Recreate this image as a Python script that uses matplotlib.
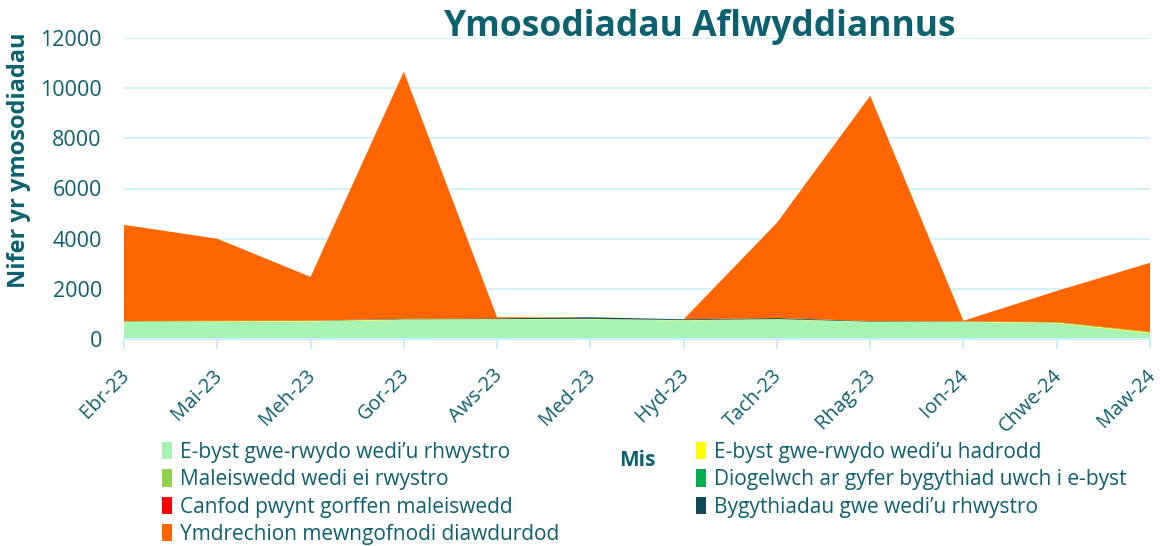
import numpy as np
import matplotlib.pyplot as plt
import matplotlib.transforms as mtransforms
from matplotlib.patches import Patch

plt.rcParams["font.family"] = ["Open Sans", "DejaVu Sans"]

TEAL = "#0B6170"
GRID = "#C8F1F8"

months = ["Ebr-23", "Mai-23", "Meh-23", "Gor-23", "Aws-23", "Med-23",
          "Hyd-23", "Tach-23", "Rhag-23", "Ion-24", "Chwe-24", "Maw-24"]

phish_blocked = [680, 690, 700, 760, 780, 790, 740, 780, 680, 680, 630, 230]
phish_reported = [20, 20, 20, 20, 10, 10, 10, 10, 10, 10, 30, 40]
malware_blocked = [3, 3, 3, 3, 3, 3, 3, 3, 3, 3, 3, 3]
adv_threat = [2, 2, 2, 2, 2, 2, 2, 2, 2, 2, 2, 2]
endpoint_malware = [1, 1, 1, 1, 1, 1, 1, 1, 1, 1, 1, 1]
web_threats = [10, 10, 10, 20, 30, 60, 30, 40, 20, 10, 10, 10]
login_attempts = [3835, 3270, 1740, 9850, 40, 0, 0, 3795, 8980, 20, 1240, 2750]

labels = ["E-byst gwe-rwydo wedi\u2019u rhwystro",
          "E-byst gwe-rwydo wedi\u2019u hadrodd",
          "Maleiswedd wedi ei rwystro",
          "Diogelwch ar gyfer bygythiad uwch i e-byst",
          "Canfod pwynt gorffen maleiswedd",
          "Bygythiadau gwe wedi\u2019u rhwystro",
          "Ymdrechion mewngofnodi diawdurdod"]
colors = ["#A6F3B4", "#FFFF00", "#92D050", "#00B050", "#FF0000", "#0E4A56", "#FF6600"]

fig = plt.figure(figsize=(11.6, 5.46), dpi=100)
ax = fig.add_axes([124/1160, 1-339/546, (1150-124)/1160, 301/546])

x = np.arange(len(months))
ax.stackplot(x, phish_blocked, phish_reported, malware_blocked, adv_threat,
             endpoint_malware, web_threats, login_attempts,
             colors=colors, linewidth=0, zorder=2)

ax.set_xlim(0, len(months) - 1)
ax.set_ylim(0, 12000)
ax.set_yticks(range(0, 12001, 2000))
ax.yaxis.grid(True, color=GRID, linewidth=1.2, zorder=0)
ax.set_axisbelow(True)
for s in ["top", "right", "left"]:
    ax.spines[s].set_visible(False)
ax.spines["bottom"].set_color(GRID)
ax.spines["bottom"].set_linewidth(1.5)
ax.tick_params(axis="y", length=0, labelsize=15.5, labelcolor=TEAL, pad=16)
ax.tick_params(axis="x", length=7, color=GRID, width=1.5,
               labelsize=14.3, labelcolor=TEAL, pad=12)
ax.set_xticks(x)
ax.set_xticklabels(months, rotation=45, ha="right", rotation_mode="anchor")
shift = mtransforms.ScaledTranslation(-0.05, 0, fig.dpi_scale_trans)
for lab in ax.get_xticklabels():
    lab.set_transform(lab.get_transform() + shift)

ax.set_ylabel("Nifer yr ymosodiadau", fontsize=17, fontweight="bold",
              color=TEAL)
ax.yaxis.set_label_coords(-0.091, 0.595)

fig.text(700/1160, 1-27/546, "Ymosodiadau Aflwyddiannus", fontsize=25.5,
         fontweight="bold", color=TEAL, ha="center", va="center")
fig.text(637/1160, 1-461/546, "Mis", fontsize=15, fontweight="bold",
         color=TEAL, ha="center", va="center")

handles = [Patch(facecolor=c, edgecolor="none", label=l) for c, l in zip(colors, labels)]
left = [handles[0], handles[2], handles[4], handles[6]]
right = [handles[1], handles[3], handles[5]]
for hs, xpos in [(left, 162/1160), (right, 696/1160)]:
    leg = fig.legend(handles=hs, loc="upper left", bbox_to_anchor=(xpos, 1-442/546),
                     frameon=False, fontsize=15, handlelength=0.5, handleheight=0.9,
                     handletextpad=0.35, labelspacing=0.3, borderpad=0, borderaxespad=0)
    for t in leg.get_texts():
        t.set_color(TEAL)

fig.savefig("out.png", dpi=100, facecolor="white")
